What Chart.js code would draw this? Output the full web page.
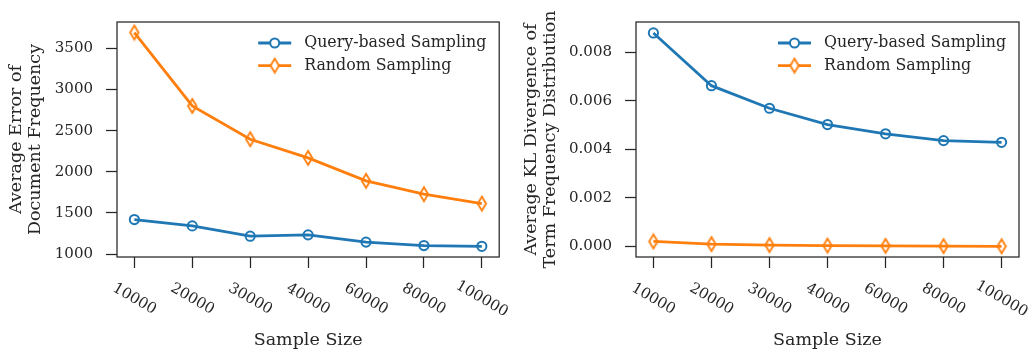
<!DOCTYPE html>
<html>
<head>
<meta charset="utf-8">
<script src="https://cdn.jsdelivr.net/npm/chart.js@4.4.1/dist/chart.umd.min.js"></script>
<style>
    html, body { margin: 0; padding: 0; background: #fff; }
    #wrap  { position: relative; width: 1031px; height: 350px; overflow: hidden; }
    .panel { position: absolute; top: 0; height: 350px; }
    #left  { left: 0; width: 508px; }
    #right { left: 508px; width: 523px; }
</style>
</head>
<body>
<div id="wrap">
    <div class="panel" id="left"><canvas id="chartDf" width="508" height="350"></canvas></div>
    <div class="panel" id="right"><canvas id="chartKl" width="523" height="350"></canvas></div>
</div>
<script>
// ── Data ─────────────────────────────────────────────────────

const sampleSizes = ['10000', '20000', '30000', '40000', '60000', '80000', '100000'];

const dfQuery  = [1420, 1343, 1218, 1234, 1146, 1104, 1095];
const dfRandom = [3692, 2800, 2396, 2169, 1890, 1728, 1614];

const klQuery  = [0.00879, 0.00662, 0.00569, 0.00502, 0.00464, 0.00436, 0.00429];
const klRandom = [0.00021, 0.00010, 0.00006, 0.00004, 0.00003, 0.00002, 0.00001];

const dfTicks = [1000, 1500, 2000, 2500, 3000, 3500];
const klTicks = [0, 0.002, 0.004, 0.006, 0.008];

const seriesLabels = ['Query-based Sampling', 'Random Sampling'];

// ── Style ────────────────────────────────────────────────────

const INK    = '#262626';
const BLUE   = '#1f77b4';
const ORANGE = '#ff7f0e';
const FAMILY = '"DejaVu Serif", "Liberation Serif", serif';

function thinDiamond(color) {
    const c = document.createElement('canvas');
    c.width = 12; c.height = 18;
    const g = c.getContext('2d');
    g.strokeStyle = color;
    g.lineWidth = 1.9;
    g.beginPath();
    g.moveTo(6, 2); g.lineTo(10.2, 9); g.lineTo(6, 16); g.lineTo(1.8, 9);
    g.closePath();
    g.stroke();
    return c;
}
const diamondImg = thinDiamond(ORANGE);

// spines, rotated x labels and the in-axes legend
const figurePlugin = {
    id: 'figure',
    afterDatasetsDraw(chart) {
        const { ctx, chartArea: a } = chart;
        ctx.save();

        ctx.strokeStyle = INK;
        ctx.lineWidth = 1.25;
        ctx.strokeRect(a.left, a.top, a.right - a.left, a.bottom - a.top);

        const xs = chart.scales.x;
        ctx.font = '15px ' + FAMILY;
        ctx.fillStyle = INK;
        ctx.textAlign = 'center';
        ctx.textBaseline = 'middle';
        sampleSizes.forEach((lab, i) => {
            ctx.save();
            ctx.translate(xs.getPixelForValue(i), a.bottom + 42);
            ctx.rotate(Math.PI / 6);
            ctx.fillText(lab, 0, 0);
            ctx.restore();
        });

        ctx.font = '15.8px ' + FAMILY;
        ctx.textAlign = 'left';
        chart.data.datasets.forEach((ds, i) => {
            const y  = a.top + 21 + i * 22.6;
            const x0 = a.right - 241;
            ctx.strokeStyle = ds.borderColor;
            ctx.lineWidth = 2.8;
            ctx.beginPath(); ctx.moveTo(x0, y); ctx.lineTo(x0 + 33, y); ctx.stroke();
            if (ds.pointStyle === 'circle') {
                ctx.lineWidth = 2;
                ctx.fillStyle = '#fff';
                ctx.beginPath(); ctx.arc(x0 + 16.5, y, 4.5, 0, Math.PI * 2); ctx.fill(); ctx.stroke();
            } else {
                ctx.fillStyle = '#fff';
                ctx.beginPath();
                ctx.moveTo(x0 + 16.5, y - 7); ctx.lineTo(x0 + 20.7, y); ctx.lineTo(x0 + 16.5, y + 7); ctx.lineTo(x0 + 12.3, y);
                ctx.closePath(); ctx.fill();
                ctx.drawImage(diamondImg, x0 + 10.5, y - 9);
            }
            ctx.fillStyle = INK;
            ctx.fillText(ds.label, a.right - 195, y);
        });

        ctx.restore();
    },
};

function makeChart(canvasId, query, random, yTicks, yRange, yFormat, yTitle, opts) {
    new Chart(document.getElementById(canvasId), {
        type: 'line',
        data: {
            datasets: [
                {
                    label: seriesLabels[0],
                    data: query.map((v, i) => ({ x: i, y: v })),
                    borderColor: BLUE,
                    borderWidth: 2.8,
                    pointStyle: 'circle',
                    pointRadius: 4.6,
                    pointBorderWidth: 2,
                    pointBorderColor: BLUE,
                    pointBackgroundColor: 'rgba(0,0,0,0)',
                    tension: 0,
                },
                {
                    label: seriesLabels[1],
                    data: random.map((v, i) => ({ x: i, y: v })),
                    borderColor: ORANGE,
                    borderWidth: 2.8,
                    pointStyle: diamondImg,
                    pointRadius: 6,
                    tension: 0,
                },
            ],
        },
        options: {
            responsive: false,
            animation: false,
            layout: { padding: { top: 22, right: opts.padRight, bottom: 0, left: 0 } },
            plugins: { legend: { display: false }, tooltip: { enabled: false } },
            scales: {
                x: {
                    type: 'linear',
                    min: -0.3,
                    max: 6.3,
                    afterBuildTicks: s => { s.ticks = sampleSizes.map((_, i) => ({ value: i })); },
                    afterFit: s => { s.height = 93; },
                    ticks: { display: false },
                    grid: {
                        display: true, drawOnChartArea: false, drawTicks: true,
                        tickLength: 11, tickColor: INK, tickWidth: 1.25,
                    },
                    border: { display: false },
                    title: {
                        display: true,
                        text: 'Sample Size',
                        color: INK,
                        font: { family: FAMILY, size: 17.5, lineHeight: 1.08 },
                        padding: { top: 0, bottom: 0.5 },
                    },
                },
                y: {
                    type: 'linear',
                    min: yRange[0],
                    max: yRange[1],
                    afterBuildTicks: s => { s.ticks = yTicks.map(v => ({ value: v })); },
                    afterFit: s => { s.width = opts.yWidth; },
                    ticks: {
                        color: INK,
                        padding: 13,
                        font: { family: FAMILY, size: 15 },
                        callback: yFormat,
                    },
                    grid: {
                        display: true, drawOnChartArea: false, drawTicks: true,
                        tickLength: 11, tickColor: INK, tickWidth: 1.25,
                    },
                    border: { display: false },
                    title: {
                        display: true,
                        text: yTitle,
                        color: INK,
                        font: { family: FAMILY, size: 17.5, lineHeight: 1.08 },
                        padding: { top: opts.titlePad, bottom: 0 },
                    },
                },
            },
        },
        plugins: [figurePlugin],
    });
}

makeChart('chartDf', dfQuery, dfRandom, dfTicks, [965, 3820], v => String(v),
    ['Average Error of', 'Document Frequency'],
    { padRight: 7, yWidth: 117, titlePad: 7.5 });

makeChart('chartKl', klQuery, klRandom, klTicks, [-0.00043, 0.00924], v => v.toFixed(3),
    ['Average KL Divergence of', 'Term Frequency Distribution'],
    { padRight: 12, yWidth: 128, titlePad: 14.5 });
</script>
</body>
</html>
